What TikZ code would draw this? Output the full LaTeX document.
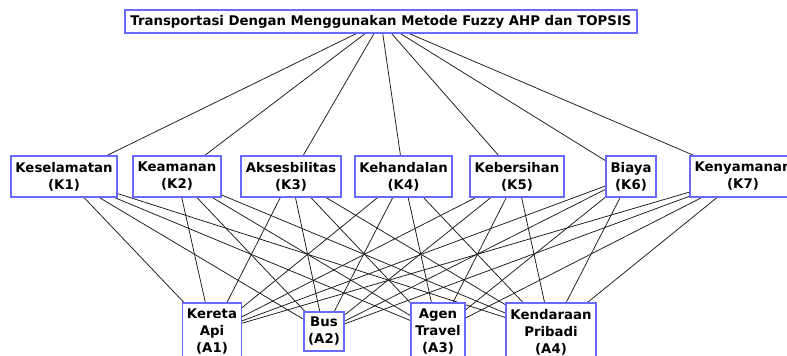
\documentclass[tikz,border=0pt]{standalone}
\usepackage{fontspec}
\setmainfont{DejaVu Sans}
\usetikzlibrary{backgrounds}
\definecolor{boxblue}{RGB}{105,105,250}
\begin{document}
\begin{tikzpicture}[x=1pt,y=-1pt,
  box/.style={draw=boxblue,line width=1.1pt,fill=white,rectangle,inner sep=0pt,align=center,
    font=\fontsize{13.3}{17}\selectfont\bfseries},
  edge/.style={draw=black!90,line width=0.75pt}]
\useasboundingbox (0,0) rectangle (787,356);
\clip (0,0) rectangle (787,356);
% title
\node[box,minimum width=512pt,minimum height=23pt] (T) at (381,21.5) {Transportasi Dengan Menggunakan Metode Fuzzy AHP dan TOPSIS};
% criteria
\node[box,minimum width=106pt,minimum height=41pt] (K1) at (64,176.5) {Keselamatan\\(K1)};
\node[box,minimum width=88pt,minimum height=41pt] (K2) at (177,176.5) {Keamanan\\(K2)};
\node[box,minimum width=100pt,minimum height=41pt] (K3) at (291,176.5) {Aksesbilitas\\(K3)};
\node[box,minimum width=97pt,minimum height=41pt] (K4) at (403.5,176.5) {Kehandalan\\(K4)};
\node[box,minimum width=94pt,minimum height=41pt] (K5) at (517,176.5) {Kebersihan\\(K5)};
\node[box,minimum width=50pt,minimum height=41pt] (K6) at (631,176.5) {Biaya\\(K6)};
\node[box,minimum width=106pt,minimum height=41pt] (K7) at (743,176.5) {Kenyamanan\\(K7)};
% alternatives
\node[box,minimum width=59pt,minimum height=58pt] (A1) at (212,332) {Kereta\\Api\\(A1)};
\node[box,minimum width=40pt,minimum height=39pt] (A2) at (324,331.5) {Bus\\(A2)};
\node[box,minimum width=54pt,minimum height=58pt] (A3) at (438,332) {Agen\\Travel\\(A3)};
\node[box,minimum width=90pt,minimum height=58pt] (A4) at (551,332) {Kendaraan\\Pribadi\\(A4)};
% edges
\begin{scope}[on background layer]
\foreach \k in {1,...,7} {
  \draw[edge] (T) -- (K\k);
  \foreach \a in {1,...,4} {
    \draw[edge] (K\k) -- (A\a);
  }
}
\end{scope}
\end{tikzpicture}
\end{document}
